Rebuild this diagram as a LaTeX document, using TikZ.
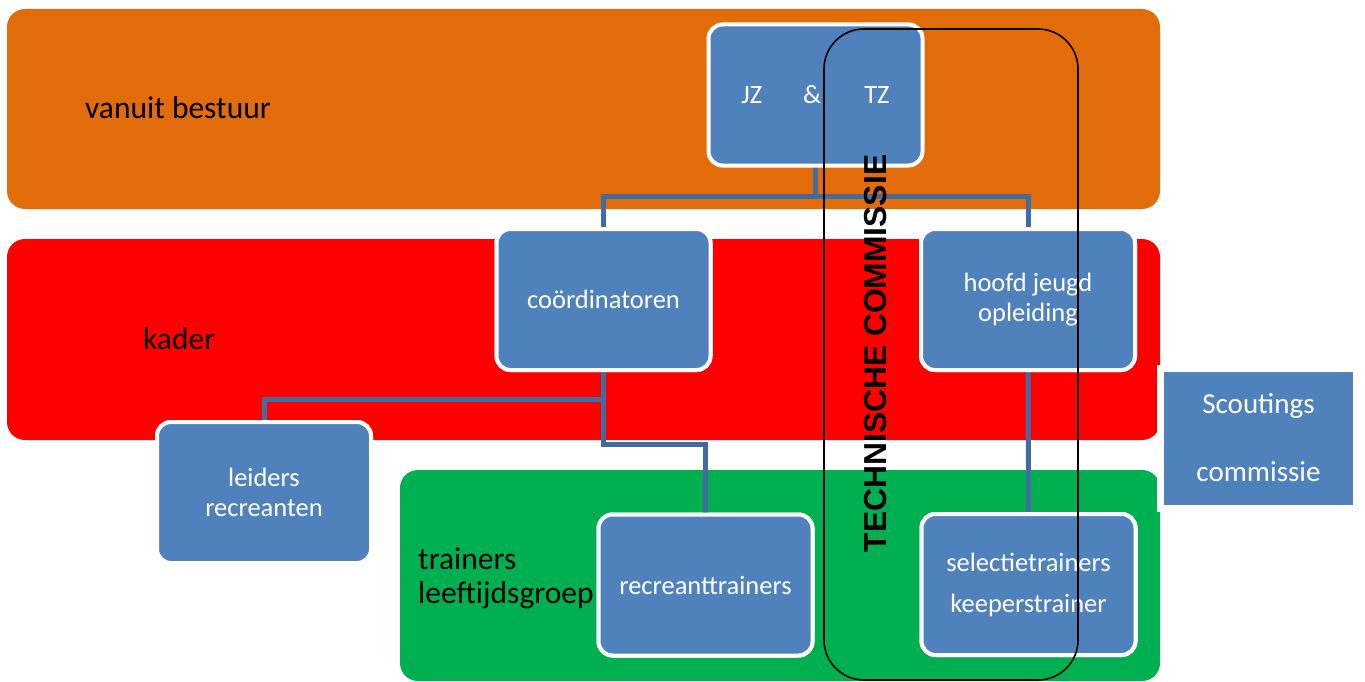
\documentclass[tikz,border=0pt]{standalone}
\usepackage{fontspec}
\setmainfont{Carlito}
\newfontfamily\tcfont{Liberation Sans}
\usetikzlibrary{shadows}
\definecolor{bandorange}{HTML}{E36C0A}
\definecolor{bandred}{HTML}{FF0000}
\definecolor{bandgreen}{HTML}{00B050}
\definecolor{boxblue}{HTML}{4F81BD}
\definecolor{connblue}{HTML}{416CA2}
\tikzset{
  band/.style={rounded corners=18pt},
  bandlabel/.style={anchor=west, inner sep=0pt, font=\fontsize{31.5}{34}\selectfont, text=black, align=left},
  bluebox/.style={rectangle, rounded corners=14pt, fill=boxblue, draw=white, line width=4pt,
    text=white, align=center, minimum width=214pt, minimum height=141pt, inner sep=0pt,
    font=\fontsize{26.5}{30}\selectfont},
  conn/.style={draw=connblue, line width=5pt},
  tcframe/.style={rectangle, draw=black, line width=1.6pt, rounded corners=40pt, minimum width=254pt, minimum height=651pt, inner sep=0pt},
}
\begin{document}
\begin{tikzpicture}[x=1pt, y=-1pt]
\useasboundingbox (0,0) rectangle (1365,682);
% bands
\fill[band, bandorange] (7,9) rectangle (1160,209);
\fill[band, bandred] (7,239) rectangle (1160,440);
\fill[band, bandgreen] (400,470) rectangle (1160,681);
% band labels
\node[bandlabel] (lbestuur) at (85,108) {vanuit bestuur};
\node[bandlabel] (lkader) at (143,339) {kader};
\node[bandlabel] (ltrainers) at (418,578) {trainers\\leeftijdsgroep};
% connectors
\coordinate (jzs) at (815.5,166);
\draw[conn] (jzs) -- ++(0,30) coordinate (j1);
\node[bluebox] (coord) at (603.5,299.5) {coördinatoren};
\node[bluebox] (hoofd) at (1028,299.5) {hoofd jeugd\\opleiding};
\node[bluebox] (leiders) at (264,492.5) {leiders\\recreanten};
\node[bluebox] (recre) at (705.5,585) {recreanttrainers};
\node[bluebox] (selectie) at (1028.5,584.5) {selectietrainers\\[11pt]keeperstrainer};
\draw[conn] (coord.north) |- (j1) -| (hoofd.north);
\draw[conn] (coord.south) -- ++(0,27) coordinate (c1) -| (leiders.north);
\draw[conn] (c1) -- ++(0,45) -| (recre.north);
\draw[conn] (hoofd.south) -- (selectie.north);
% boxes on top of connectors
\node[bluebox] (jz) at (815.5,95) {JZ\hspace{41pt}\&\hspace{43pt}TZ};
\node[bluebox] at (coord) {coördinatoren};
\node[bluebox] at (hoofd) {hoofd jeugd\\opleiding};
\node[bluebox] at (leiders) {leiders\\recreanten};
\node[bluebox] at (recre) {recreanttrainers};
\node[bluebox] at (selectie) {selectietrainers\\[11pt]keeperstrainer};
% scouting commissie
\node[rectangle, fill=boxblue, draw=white, line width=7pt, minimum width=196pt, minimum height=140pt,
  inner sep=0pt, text=white, align=center, font=\fontsize{29}{34}\selectfont,
  drop shadow={shadow xshift=2pt, shadow yshift=-3pt, opacity=0.35}] (scout) at (1258.5,438.5) {\raisebox{3pt}{Scoutings}\\[34pt]\raisebox{3pt}{commissie}};
% technische commissie
\node[tcframe] (tc) at (951,354.5) {};
\node[rotate=90, inner sep=0pt, font=\tcfont\bfseries\fontsize{31.8}{36}\selectfont] (tctext) at (876,353.5) {TECHNISCHE COMMISSIE};
\end{tikzpicture}
\end{document}
